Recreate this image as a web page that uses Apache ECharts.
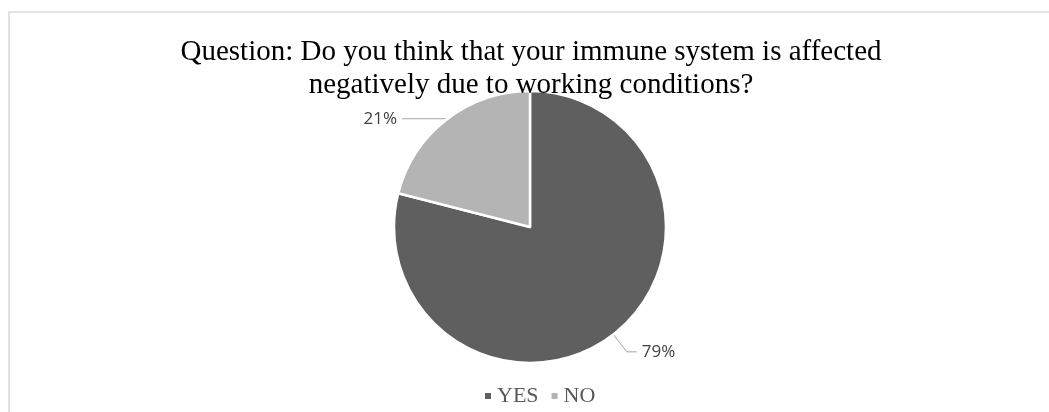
<!DOCTYPE html>
<html>
<head>
<meta charset="utf-8">
<script src="https://cdn.jsdelivr.net/npm/echarts@6/dist/echarts.min.js"></script>
<style>
  html, body { margin: 0; padding: 0; background: #fff; }
  #chart { width: 1049px; height: 412px; }
</style>
</head>
<body>
<div id="chart"></div>
<script>
// Survey answers (share of respondents, %)
const categories = ['YES', 'NO'];
const values = [79, 21];
const colors = ['#5f5f5f', '#b4b4b4'];
const titleLines = [
  'Question: Do you think that your immune system is affected',
  'negatively due to working conditions?'
];

const chart = echarts.init(document.getElementById('chart'), null, { renderer: 'canvas' });

// leader line shape per slice
const leaders = [
  { length: 22, length2: 10 },
  { length: 1, length2: 44 }
];

const option = {
  animation: false,
  backgroundColor: '#ffffff',
  graphic: [{
    type: 'rect',
    shape: { x: 9, y: 12, width: 1200, height: 600 },
    style: { fill: 'none', stroke: '#d9d9d9', lineWidth: 1.5 },
    silent: true,
    z: 0
  }, {
    // chart title, centred over the pie
    type: 'text',
    z: 10,
    silent: true,
    style: {
      text: titleLines.join('\n'),
      x: 531,
      y: 36,
      align: 'center',
      verticalAlign: 'top',
      fontFamily: 'Liberation Serif',
      fontSize: 29,
      lineHeight: 33,
      fill: '#000000'
    }
  }],
  legend: {
    data: categories,
    left: 478,
    top: 380,
    icon: 'rect',
    itemWidth: 8,
    itemHeight: 8,
    itemGap: 11,
    textStyle: {
      fontFamily: 'Liberation Serif',
      fontSize: 22,
      color: '#595959'
    }
  },
  series: [{
    type: 'pie',
    z: 1,
    center: [530, 227],
    radius: 136,
    startAngle: 90,
    clockwise: true,
    avoidLabelOverlap: false,
    itemStyle: { borderColor: '#ffffff', borderWidth: 2.5 },
    label: {
      show: true,
      formatter: '{d}%',
      fontFamily: 'Open Sans',
      fontSize: 17,
      color: '#404040',
      distanceToLabelLine: 5
    },
    labelLine: {
      show: true,
      lineStyle: { color: '#a6a6a6', width: 1 }
    },
    data: categories.map((name, i) => ({
      name,
      value: values[i],
      itemStyle: { color: colors[i] },
      labelLine: leaders[i]
    }))
  }]
};

chart.setOption(option);
</script>
</body>
</html>
